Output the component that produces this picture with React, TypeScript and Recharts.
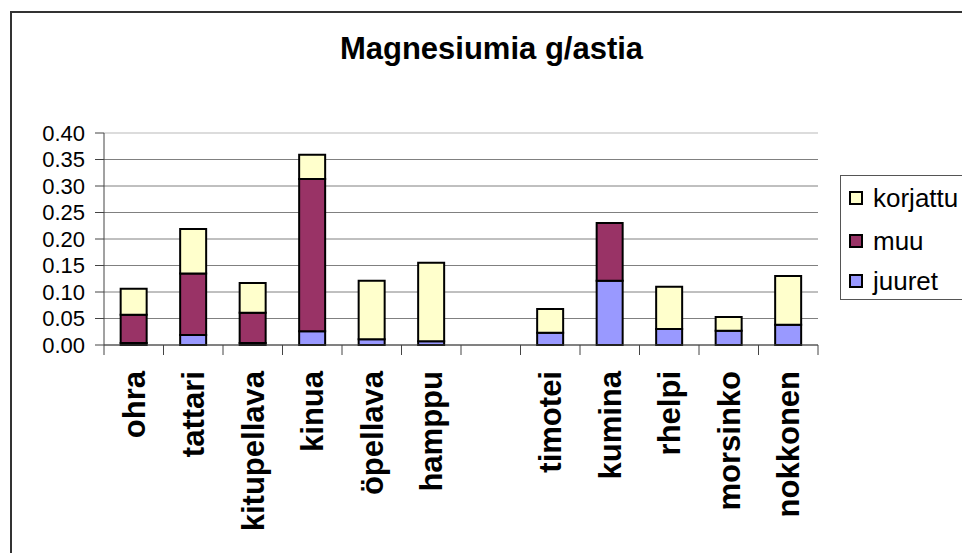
import React from 'react';
import { BarChart, Bar, XAxis, YAxis, CartesianGrid, ReferenceLine } from 'recharts';

const categories = ['ohra', 'tattari', 'kitupellava', 'kinua', 'öpellava', 'hamppu', '', 'timotei', 'kumina', 'rhelpi', 'morsinko', 'nokkonen'];
const juuret = [0.004, 0.019, 0.004, 0.026, 0.011, 0.007, null, 0.023, 0.121, 0.030, 0.027, 0.038];
const muu = [0.053, 0.116, 0.057, 0.287, null, null, null, null, 0.109, null, null, null];
const korjattu = [0.049, 0.084, 0.056, 0.046, 0.110, 0.148, null, 0.045, null, 0.080, 0.026, 0.092];
const yTicks = [0, 0.05, 0.1, 0.15, 0.2, 0.25, 0.3, 0.35, 0.4];
const title = 'Magnesiumia g/astia';

const series = [
  { key: 'juuret', name: 'juuret', color: '#9999FF' },
  { key: 'muu', name: 'muu', color: '#993366' },
  { key: 'korjattu', name: 'korjattu', color: '#FFFFCC' },
];

const data = categories.map((c, i) => ({ name: c, juuret: juuret[i], muu: muu[i], korjattu: korjattu[i] }));

const FONT = 'Arial, "Liberation Sans", sans-serif';

const XTick = (props: any) => {
  const { x, y, payload, index, visibleTicksCount } = props;
  const half = payload.offset || 0;
  const last = index === (visibleTicksCount ?? categories.length) - 1;
  return (
    <g>
      <line x1={x - half} x2={x - half} y1={y} y2={y + 10} stroke="#444" strokeWidth={1} />
      {last && <line x1={x + half} x2={x + half} y1={y} y2={y + 10} stroke="#444" strokeWidth={1} />}
      <text
        transform={`translate(${x + 11},${y + 26}) rotate(-90)`}
        textAnchor="end"
        fontFamily={FONT}
        fontWeight="bold"
        fontSize={31}
        fill="#000"
      >
        {payload.value}
      </text>
    </g>
  );
};

const YTick = (props: any) => {
  const { x, y, payload } = props;
  return (
    <text x={x} y={y} dy="0.36em" textAnchor="end" fontFamily={FONT} fontSize={22} fill="#000">
      {Number(payload.value).toFixed(2)}
    </text>
  );
};

const legendOrder = [...series].reverse();
const legendTops = [12, 55, 95];

export default function App() {
  return (
    <div style={{ position: 'fixed', left: 0, top: 0, width: 962, height: 553, overflow: 'hidden', background: '#fff', fontFamily: FONT }}>
      <div style={{ position: 'absolute', left: 10, top: 11, width: 1000, height: 600, border: '2px solid #333' }} />
      <div
        style={{
          position: 'absolute', left: 291.5, top: 33, width: 400, textAlign: 'center',
          fontSize: 31, fontWeight: 'bold', lineHeight: '31px', color: '#000', whiteSpace: 'nowrap',
        }}
      >
        {title}
      </div>
      <div style={{ position: 'absolute', left: 0, top: 0 }}>
        <BarChart width={962} height={553} data={data} margin={{ top: 133, right: 144, bottom: 0, left: 0 }} barCategoryGap="28%">
          <CartesianGrid horizontal vertical={false} stroke="#808080" strokeWidth={1} />
          <XAxis
            dataKey="name"
            height={208}
            interval={0}
            tickLine={false}
            tickSize={0}
            tickMargin={0}
            axisLine={{ stroke: '#444', strokeWidth: 1 }}
            tick={<XTick />}
          />
          <YAxis
            width={104}
            domain={[0, 0.4]}
            ticks={yTicks}
            interval={0}
            tickSize={9}
            tickMargin={10}
            axisLine={{ stroke: '#444', strokeWidth: 1 }}
            tickLine={{ stroke: '#444', strokeWidth: 1 }}
            tick={<YTick />}
          />
          <ReferenceLine y={0.4} stroke="#e6e6e6" strokeWidth={1.5} />
          {series.map((s) => (
            <Bar key={s.key} dataKey={s.key} name={s.name} stackId="a" fill={s.color} stroke="#000" strokeWidth={2} isAnimationActive={false} />
          ))}
        </BarChart>
      </div>
      <div style={{ position: 'absolute', left: 840, top: 175, width: 140, height: 125, border: '1px solid #555', boxSizing: 'border-box' }}>
        {legendOrder.map((s, i) => (
          <div key={s.key} style={{ position: 'absolute', left: 8, top: legendTops[i], height: 20, display: 'flex', alignItems: 'center' }}>
            <div style={{ width: 14, height: 14, background: s.color, border: '2px solid #000', boxSizing: 'border-box' }} />
            <span style={{ marginLeft: 10, fontSize: 26, lineHeight: '20px', color: '#000' }}>{s.name}</span>
          </div>
        ))}
      </div>
    </div>
  );
}
